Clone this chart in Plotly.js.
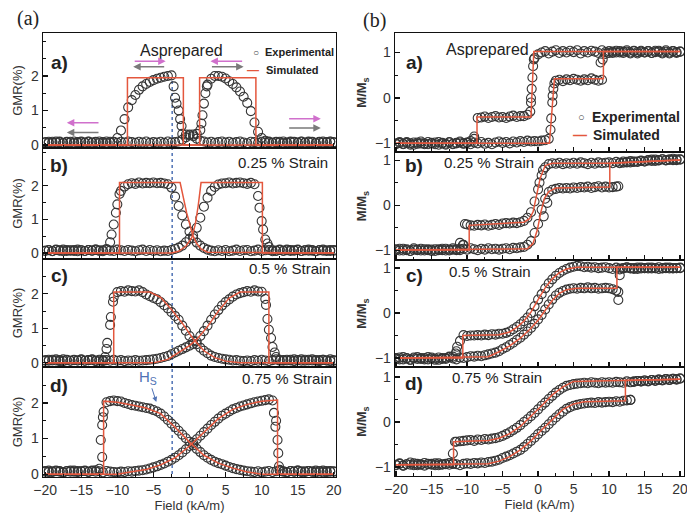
<!DOCTYPE html>
<html><head><meta charset="utf-8">
<script src="https://cdn.plot.ly/plotly-3.0.1.min.js"></script>
<style>html,body{margin:0;padding:0;background:#fff}#chart{width:687px;height:513px}</style>
</head><body><div id="chart"></div>
<script>
// ---------- DATA ----------
const fieldGrid = [-20,-19.5,-19,-18.5,-18,-17.5,-17,-16.5,-16,-15.5,
 -15,-14.5,-14,-13.5,-13,-12.5,-12,-11.5,-11,-10.5,
 -10,-9.5,-9,-8.5,-8,-7.5,-7,-6.5,-6,-5.5,
 -5,-4.5,-4,-3.5,-3,-2.5,-2,-1.5,-1,-0.5,
 0,0.5,1,1.5,2,2.5,3,3.5,4,4.5,
 5,5.5,6,6.5,7,7.5,8,8.5,9,9.5,
 10,10.5,11,11.5,12,12.5,13,13.5,14,14.5,
 15,15.5,16,16.5,17,17.5,18,18.5,19,19.5,20];

// GMR (%) — left column
const gmrA_down = [0.07,0.09,0.06,0.10,0.08,0.05,0.09,0.07,0.10,0.06,
 0.08,0.06,0.10,0.07,0.09,0.05,0.08,0.10,0.07,0.09,
 0.20,0.42,0.75,1.09,1.30,1.45,1.60,1.70,1.77,1.83,
 1.88,1.92,1.95,1.98,2.00,2.02,1.37,1.00,0.32,0.30,
 0.30,0.25,0.18,0.12,0.10,0.07,0.09,0.06,0.08,0.10,
 0.07,0.09,0.06,0.08,0.10,0.07,0.05,0.09,0.08,0.06,
 0.09,0.07,0.10,0.06,0.08,0.09,0.05,0.07,0.10,0.08,
 0.06,0.09,0.07,0.10,0.08,0.06,0.09,0.07,0.08,0.10,0.07];
const gmrA_up = [0.08,0.06,0.09,0.07,0.10,0.06,0.08,0.09,0.05,0.08,
 0.10,0.07,0.09,0.06,0.08,0.10,0.07,0.05,0.09,0.08,
 0.06,0.09,0.07,0.10,0.08,0.06,0.09,0.07,0.10,0.06,
 0.08,0.07,0.09,0.06,0.10,0.07,0.08,0.10,0.15,0.22,
 0.28,0.30,0.32,0.43,1.20,1.75,1.92,2.00,2.00,1.98,
 1.93,1.85,1.77,1.67,1.55,1.40,1.22,0.98,0.65,0.38,
 0.20,0.12,0.08,0.06,0.09,0.07,0.10,0.06,0.08,0.09,
 0.07,0.10,0.06,0.08,0.09,0.05,0.08,0.10,0.07,0.09,0.08];
const gmrA_edgeX = [-2.2,-1.8,-1.3,-1.1,1.65,1.8,2.2,2.4];
const gmrA_edgeY = [1.70,1.20,0.75,0.55,0.62,0.86,1.50,1.70];
const gmrA_simX = [20,-0.85,-0.85,-8.6,-8.6,-20,null,-20,1.4,1.4,9.2,9.2,20];
const gmrA_simY = [0,0,1.95,1.95,0,0,null,0,0,1.95,1.95,0,0];

const gmrB_down = [0.06,0.08,0.05,0.09,0.07,0.10,0.06,0.08,0.09,0.05,
 0.08,0.06,0.09,0.07,0.10,0.06,0.08,0.12,0.32,0.85,
 1.45,1.85,1.98,2.05,2.08,2.06,2.10,2.07,2.09,2.08,
 2.10,2.08,2.09,2.07,2.05,1.95,1.68,1.40,1.12,0.85,
 0.64,0.44,0.31,0.22,0.15,0.10,0.07,0.05,0.08,0.06,
 0.09,0.05,0.07,0.10,0.06,0.08,0.09,0.05,0.07,0.10,
 0.06,0.08,0.09,0.05,0.07,0.10,0.06,0.08,0.09,0.07,
 0.10,0.06,0.08,0.07,0.09,0.05,0.08,0.10,0.06,0.09,0.07];
const gmrB_up = [0.07,0.09,0.06,0.10,0.08,0.05,0.09,0.07,0.06,0.10,
 0.08,0.06,0.09,0.07,0.10,0.08,0.05,0.09,0.07,0.06,
 0.10,0.08,0.06,0.09,0.07,0.05,0.08,0.10,0.06,0.09,
 0.06,0.08,0.05,0.07,0.06,0.09,0.12,0.16,0.22,0.32,
 0.42,0.52,0.75,1.05,1.38,1.65,1.85,1.97,2.04,2.07,
 2.08,2.10,2.07,2.09,2.10,2.08,2.06,2.09,2.05,1.70,
 0.95,0.40,0.18,0.08,0.06,0.09,0.07,0.10,0.06,0.08,
 0.09,0.06,0.08,0.10,0.07,0.05,0.09,0.07,0.08,0.06,0.09];
const gmrB_edgeX = [-10.8,-10.2,-9.7,9.7,10.2,10.8];
const gmrB_edgeY = [0.55,1.20,1.76,1.35,0.70,0.28];
const gmrB_simX = [20,3.5,2.5,1.6,1,0.5,0,-0.4,-0.9,-1.3,-9.7,-9.7,-20,null,
 -20,-2.5,-1.5,-0.5,0.3,0.8,1.2,1.6,10.1,10.1,20];
const gmrB_simY = [0,0,0.02,0.12,0.28,0.5,0.85,1.2,1.7,2.1,2.1,0,0,null,
 0,0,0.05,0.2,0.45,0.85,1.4,2.1,2.1,0,0];

const gmrC_down = [0.08,0.06,0.09,0.07,0.05,0.10,0.08,0.06,0.09,0.07,
 0.10,0.06,0.08,0.09,0.05,0.07,0.08,0.40,1.10,1.90,
 2.05,2.08,2.06,2.10,2.08,2.07,2.10,2.05,1.98,1.93,
 1.88,1.84,1.76,1.67,1.58,1.47,1.36,1.25,1.08,0.93,
 0.78,0.64,0.54,0.44,0.35,0.28,0.21,0.17,0.14,0.12,
 0.10,0.09,0.07,0.08,0.06,0.05,0.07,0.05,0.08,0.06,
 0.09,0.07,0.05,0.08,0.10,0.06,0.08,0.07,0.09,0.05,
 0.08,0.10,0.06,0.09,0.07,0.08,0.05,0.09,0.07,0.10,0.06];
const gmrC_up = [0.06,0.09,0.07,0.10,0.08,0.05,0.09,0.06,0.08,0.07,
 0.09,0.06,0.08,0.10,0.07,0.09,0.05,0.08,0.06,0.09,
 0.06,0.08,0.05,0.07,0.06,0.08,0.06,0.07,0.08,0.09,
 0.10,0.12,0.14,0.17,0.20,0.25,0.30,0.35,0.40,0.45,
 0.50,0.55,0.62,0.78,0.92,1.08,1.25,1.40,1.53,1.66,
 1.76,1.84,1.92,1.98,2.02,2.05,2.08,2.06,2.10,2.07,
 2.06,1.85,0.96,0.46,0.17,0.08,0.06,0.09,0.07,0.10,
 0.08,0.06,0.09,0.07,0.10,0.06,0.08,0.09,0.07,0.05,0.08];
const gmrC_edgeX = [-11.7,-11.4,-10.9,-10.6,10.6,10.8,11.3,11.8];
const gmrC_edgeY = [0.17,0.58,1.33,1.77,1.68,1.27,0.72,0.30];
const gmrC_simX = [20,7,5,3.5,2,0.5,-1,-2.5,-4,-5.5,-10.5,-10.5,-20,null,
 -20,-5,-3,-1.5,0,1,2.5,4,5.5,7,11,11,20];
const gmrC_simY = [0,0,0.05,0.15,0.35,0.7,1.15,1.55,1.9,2.05,2.05,0,0,null,
 0,0,0.1,0.3,0.5,0.68,1.05,1.5,1.88,2.05,2.05,0,0];

const gmrD_down = [0.07,0.10,0.06,0.08,0.09,0.05,0.08,0.10,0.07,0.09,
 0.08,0.10,0.07,0.09,0.11,0.15,1.60,2.02,2.05,2.07,
 2.05,2.04,2.00,1.97,1.94,1.92,1.90,1.88,1.86,1.84,
 1.80,1.76,1.70,1.62,1.52,1.42,1.32,1.22,1.11,1.01,
 0.91,0.81,0.71,0.62,0.53,0.46,0.40,0.35,0.31,0.28,
 0.24,0.20,0.17,0.14,0.12,0.10,0.08,0.07,0.06,0.08,
 0.05,0.07,0.09,0.06,0.08,0.10,0.07,0.05,0.09,0.07,
 0.10,0.06,0.08,0.09,0.07,0.05,0.08,0.10,0.06,0.09,0.07];
const gmrD_up = [0.09,0.06,0.08,0.10,0.07,0.05,0.09,0.07,0.10,0.06,
 0.08,0.09,0.06,0.10,0.07,0.08,0.05,0.09,0.07,0.06,
 0.05,0.07,0.06,0.08,0.07,0.09,0.10,0.11,0.13,0.16,
 0.19,0.22,0.26,0.30,0.35,0.40,0.46,0.53,0.61,0.70,
 0.79,0.88,0.98,1.08,1.18,1.28,1.38,1.47,1.56,1.64,
 1.70,1.76,1.82,1.86,1.90,1.93,1.96,1.99,2.02,2.04,
 2.06,2.08,2.10,2.07,1.50,0.12,0.08,0.06,0.09,0.07,
 0.10,0.08,0.06,0.09,0.07,0.10,0.08,0.05,0.09,0.07,0.08];
const gmrD_edgeX = [-12.1,-12.3,-12.1,-11.9,11.7,11.9,12.2,12.3,12.4];
const gmrD_edgeY = [0.48,0.96,1.38,1.75,1.72,1.33,0.96,0.59,0.22];
const gmrD_simX = [20,10,8,6,4,2,0,-2,-4,-6,-8,-10,-11.9,-11.9,-20,null,
 -20,-10,-8,-6,-4,-2,0,2,4,6,8,10,12.2,12.2,20];
const gmrD_simY = [0,0,0.06,0.17,0.31,0.53,0.9,1.32,1.7,1.86,1.94,2.02,2.05,0,0,null,
 0,0,0.07,0.13,0.26,0.46,0.79,1.18,1.56,1.82,1.96,2.05,2.08,0,0];

// M/Ms — right column
const magA_down = [-1.00,-0.97,-1.02,-0.99,-1.03,-0.98,-1.01,-0.96,-1.00,-1.02,
 -0.99,-1.02,-0.97,-1.00,-1.03,-0.98,-1.01,-0.99,-0.96,-1.00,
 -0.98,-0.95,-0.90,-0.44,-0.43,-0.41,-0.44,-0.42,-0.40,-0.43,
 -0.42,-0.44,-0.41,-0.39,-0.42,-0.40,-0.40,-0.37,0.00,0.88,
 0.96,1.00,1.03,0.98,1.02,1.05,0.99,1.03,1.00,1.04,
 1.01,1.05,0.98,1.03,1.00,1.04,1.02,0.99,1.05,1.01,
 1.03,0.99,1.04,1.00,1.02,1.05,0.98,1.03,1.01,1.04,
 1.00,1.03,0.99,1.04,1.02,1.00,1.05,0.98,1.03,1.01,1.02];
const magA_up = [-1.02,-0.99,-1.01,-0.97,-1.00,-1.03,-0.98,-1.00,-1.02,-0.97,
 -1.00,-0.98,-1.03,-0.99,-1.01,-0.97,-1.02,-1.00,-0.98,-1.01,
 -0.99,-1.02,-0.98,-1.00,-0.97,-1.01,-0.99,-1.02,-0.98,-0.96,
 -0.99,-0.97,-1.00,-0.96,-0.98,-0.95,-0.97,-0.94,-0.96,-0.95,
 -0.96,-0.94,-0.93,-0.90,-0.10,0.38,0.40,0.37,0.41,0.39,
 0.42,0.40,0.38,0.41,0.39,0.43,0.40,0.38,0.40,0.97,
 0.99,1.02,1.00,1.03,0.99,1.02,1.00,1.04,0.98,1.02,
 1.00,1.03,0.99,1.01,1.04,0.98,1.02,1.00,1.03,0.99,1.02];
const magA_edgeX = [-1.1,-1.0,-0.9,-0.8,-0.7,-0.6,-9.0,1.75,1.85,2.05,2.15,2.3,8.8,9.1];
const magA_edgeY = [-0.30,-0.10,0.20,0.45,0.70,0.85,-0.85,-0.70,-0.45,0.05,0.20,0.32,0.78,0.85];
const magA_simX = [20,-0.6,-1.0,-8.6,-8.6,-20,null,-20,1.6,2.3,9.2,9.2,20];
const magA_simY = [1.02,1.02,-0.42,-0.42,-1.0,-1.0,null,-1.0,-1.0,0.42,0.42,1.02,1.02];

const magB_down = [-0.98,-1.01,-0.97,-1.00,-1.02,-0.96,-0.99,-1.01,-0.98,-1.00,
 -1.02,-0.98,-1.00,-0.97,-1.01,-0.99,-0.96,-1.00,-0.97,-0.88,
 -0.43,-0.45,-0.46,-0.44,-0.45,-0.43,-0.46,-0.44,-0.42,-0.44,
 -0.41,-0.40,-0.41,-0.39,-0.40,-0.38,-0.35,-0.28,-0.16,0.08,
 0.35,0.66,0.84,0.91,0.93,0.92,0.94,0.91,0.93,0.92,
 0.94,0.92,0.95,0.93,0.91,0.94,0.92,0.95,0.93,0.94,
 0.95,0.93,0.96,0.94,0.97,0.95,0.98,0.96,0.97,0.99,
 0.97,1.00,0.98,1.01,0.99,1.02,1.00,1.01,1.03,1.00,1.02];
const magB_up = [-1.00,-0.97,-1.01,-0.98,-1.02,-0.99,-1.00,-0.97,-1.01,-0.98,
 -0.99,-1.02,-0.98,-1.00,-0.97,-1.01,-0.99,-0.98,-1.00,-0.97,
 -0.99,-0.96,-0.98,-1.00,-0.97,-0.99,-0.96,-0.98,-0.97,-0.99,
 -0.97,-0.96,-0.98,-0.95,-0.96,-0.94,-0.93,-0.88,-0.80,-0.62,
 -0.42,-0.10,0.14,0.29,0.34,0.36,0.38,0.37,0.38,0.37,
 0.39,0.38,0.40,0.39,0.41,0.38,0.40,0.42,0.39,0.41,
 0.39,0.40,0.41,0.93,0.94,0.96,0.95,0.97,0.96,0.98,
 0.97,0.99,1.01,0.98,1.00,1.02,0.99,1.01,1.00,1.02,1.01];
const magB_edgeX = [-10.3,-10.6,-11.0,0.2,0.7,0.8,1.3,11.3];
const magB_edgeY = [-0.42,-0.89,-0.84,0.50,0.78,-0.25,0.05,0.42];
const magB_simX = [20,10,2,1,0.3,-0.2,-0.7,-1.2,-2,-9.7,-9.7,-20,null,
 -20,-1.5,-0.7,-0.1,0.4,0.9,1.5,2.5,10.1,10.1,20];
const magB_simY = [1.0,0.93,0.93,0.88,0.6,0.2,-0.15,-0.3,-0.38,-0.45,-1.0,-1.0,null,
 -1.0,-0.97,-0.85,-0.55,-0.15,0.15,0.3,0.38,0.4,0.93,1.0];

const magC_down = [-1.00,-1.03,-0.98,-1.01,-1.04,-0.99,-1.02,-1.00,-1.03,-0.98,
 -1.01,-1.04,-0.99,-1.02,-1.00,-0.97,-0.97,-0.85,-0.62,-0.49,
 -0.51,-0.50,-0.50,-0.49,-0.50,-0.48,-0.49,-0.47,-0.48,-0.46,
 -0.46,-0.44,-0.41,-0.36,-0.31,-0.25,-0.18,-0.10,0.00,0.15,
 0.30,0.42,0.55,0.66,0.75,0.83,0.89,0.94,0.98,1.01,
 1.03,1.05,1.04,1.02,1.03,1.01,1.02,1.00,1.01,1.02,
 1.00,0.98,1.01,0.99,1.00,1.02,0.99,1.00,0.98,1.01,
 1.00,0.99,1.01,1.00,0.98,1.00,1.01,0.99,1.00,1.00,1.00];
const magC_up = [-1.02,-0.99,-1.03,-1.00,-1.04,-1.01,-0.98,-1.02,-1.00,-1.03,
 -0.99,-1.01,-1.04,-1.00,-1.02,-0.98,-1.01,-1.03,-0.99,-1.00,
 -0.98,-0.96,-0.97,-0.95,-0.96,-0.94,-0.92,-0.90,-0.88,-0.85,
 -0.80,-0.76,-0.71,-0.66,-0.60,-0.55,-0.48,-0.41,-0.33,-0.24,
 -0.14,-0.04,0.08,0.19,0.30,0.39,0.45,0.49,0.52,0.54,
 0.55,0.54,0.56,0.55,0.57,0.55,0.56,0.54,0.55,0.56,
 0.55,0.53,0.50,0.97,0.99,1.01,1.00,0.98,1.01,0.99,
 1.00,1.01,0.99,1.00,1.02,0.99,1.00,1.01,0.99,1.00,1.01];
const magC_edgeX = [-11.4,-11.6,11.3,11.3,11.5];
const magC_edgeY = [-0.75,-0.90,0.47,0.29,0.84];
const magC_simX = [20,5.5,4,3,2,1,0,-1,-2,-3,-4,-5.5,-10.6,-10.6,-20,null,
 -20,-7,-5.5,-4,-2.5,-1,0,1,2,3,4,5.5,11.1,11.1,20];
const magC_simY = [1.02,1.02,0.98,0.9,0.76,0.56,0.3,0.02,-0.18,-0.32,-0.42,-0.48,-0.5,-1.0,-1.0,null,
 -1.0,-0.97,-0.86,-0.73,-0.56,-0.34,-0.16,0.06,0.28,0.44,0.52,0.55,0.55,1.02,1.02];

const magD_down = [-0.95,-0.92,-0.97,-0.94,-0.90,-0.96,-0.93,-0.95,-0.91,-0.94,
 -0.93,-0.96,-0.92,-0.95,-0.94,-0.91,-0.93,-0.44,-0.43,-0.42,
 -0.41,-0.40,-0.42,-0.39,-0.40,-0.38,-0.39,-0.37,-0.36,-0.34,
 -0.31,-0.27,-0.23,-0.18,-0.13,-0.07,0.00,0.06,0.13,0.20,
 0.28,0.36,0.43,0.51,0.58,0.65,0.71,0.76,0.80,0.82,
 0.84,0.85,0.86,0.87,0.86,0.88,0.87,0.86,0.88,0.87,
 0.88,0.87,0.89,0.88,0.87,0.90,0.88,0.89,0.91,0.90,
 0.92,0.90,0.93,0.91,0.94,0.92,0.95,0.93,0.96,0.94,0.96];
const magD_up = [-0.96,-0.93,-0.97,-0.94,-0.95,-0.92,-0.96,-0.94,-0.97,-0.93,
 -0.95,-0.92,-0.96,-0.94,-0.93,-0.95,-0.92,-0.94,-0.96,-0.93,
 -0.92,-0.93,-0.91,-0.92,-0.90,-0.91,-0.89,-0.88,-0.86,-0.84,
 -0.80,-0.77,-0.74,-0.70,-0.66,-0.62,-0.56,-0.49,-0.42,-0.35,
 -0.27,-0.20,-0.13,-0.05,0.03,0.10,0.17,0.23,0.29,0.33,
 0.36,0.38,0.40,0.41,0.42,0.43,0.42,0.44,0.43,0.44,
 0.45,0.44,0.46,0.45,0.47,0.48,0.49,0.90,0.91,0.90,
 0.92,0.91,0.93,0.92,0.94,0.93,0.95,0.94,0.96,0.95,0.97];
const magD_edgeX = [-11.7,-12.0,13.0];
const magD_edgeY = [-0.44,-0.70,0.49];
const magD_simX = [20,5,3.5,2,0.5,-1,-2.5,-4,-5.5,-7,-11.9,-11.9,-20,null,
 -20,-7,-5.5,-4,-2.5,-1,0.5,2,3.5,5,6.5,12.3,12.3,20];
const magD_simY = [0.95,0.9,0.78,0.6,0.36,0.12,-0.1,-0.26,-0.36,-0.41,-0.44,-0.95,-0.95,null,
 -0.95,-0.93,-0.87,-0.77,-0.62,-0.42,-0.18,0.06,0.28,0.4,0.45,0.47,0.92,0.95];

const panelLabels = ['a)','b)','c)','d)'];
const leftNotes = ['Asprepared','0.25 % Strain','0.5 % Strain','0.75 % Strain'];
const rightNotes = ['Asprepared','0.25 % Strain','0.5 % Strain','0.75 % Strain'];
const gmrTicks = [0, 1, 2];
const magTicks = [-1, 0, 1];
const fieldTicks = [-20, -15, -10, -5, 0, 5, 10, 15, 20];
const xTitle = 'Field (kA/m)';
const leftYTitle = 'GMR(%)';
const rightYTitle = '<b>M/M<sub>s</sub></b>';

// ---------- LAYOUT HELPERS ----------
const W = 687, H = 513;
const dom = (t, b) => [1 - b / H, 1 - t / H];
const FONT = 'Liberation Sans, Arial, Helvetica, sans-serif';
const leftXDom = [43 / W, 336 / W], rightXDom = [395 / W, 684 / W];

const panels = [
  {xd: leftXDom, yd: dom(33,148), xr: [-20.3,20.3], yr: [-0.09,3.25], d: gmrA_down, u: gmrA_up, ex: gmrA_edgeX, ey: gmrA_edgeY, sx: gmrA_simX, sy: gmrA_simY, title: leftYTitle, tv: gmrTicks},
  {xd: leftXDom, yd: dom(148,259), xr: [-20.3,20.3], yr: [-0.18,3.13], d: gmrB_down, u: gmrB_up, ex: gmrB_edgeX, ey: gmrB_edgeY, sx: gmrB_simX, sy: gmrB_simY, title: leftYTitle, tv: gmrTicks},
  {xd: leftXDom, yd: dom(259,367), xr: [-20.3,20.3], yr: [-0.12,3.01], d: gmrC_down, u: gmrC_up, ex: gmrC_edgeX, ey: gmrC_edgeY, sx: gmrC_simX, sy: gmrC_simY, title: leftYTitle, tv: gmrTicks},
  {xd: leftXDom, yd: dom(367,477), xr: [-20.3,20.3], yr: [-0.08,3.01], d: gmrD_down, u: gmrD_up, ex: gmrD_edgeX, ey: gmrD_edgeY, sx: gmrD_simX, sy: gmrD_simY, title: leftYTitle, tv: gmrTicks, bottom: true},
  {xd: rightXDom, yd: dom(33,152), xr: [-20.15,20.55], yr: [-1.19,1.43], d: magA_down, u: magA_up, ex: magA_edgeX, ey: magA_edgeY, sx: magA_simX, sy: magA_simY, title: rightYTitle, tv: magTicks},
  {xd: rightXDom, yd: dom(152,260), xr: [-20.15,20.55], yr: [-1.22,1.18], d: magB_down, u: magB_up, ex: magB_edgeX, ey: magB_edgeY, sx: magB_simX, sy: magB_simY, title: rightYTitle, tv: magTicks},
  {xd: rightXDom, yd: dom(260,367), xr: [-20.15,20.55], yr: [-1.2,1.18], d: magC_down, u: magC_up, ex: magC_edgeX, ey: magC_edgeY, sx: magC_simX, sy: magC_simY, title: rightYTitle, tv: magTicks},
  {xd: rightXDom, yd: dom(367,476), xr: [-20.15,20.55], yr: [-1.2,1.22], d: magD_down, u: magD_up, ex: magD_edgeX, ey: magD_edgeY, sx: magD_simX, sy: magD_simY, title: rightYTitle, tv: magTicks, bottom: true}
];

const expMarker = {symbol: 'circle-open', size: 9, color: '#353535', line: {width: 1.1}};
const simLine = {color: '#e4573d', width: 1.5};

const traces = [];
const layout = {
  width: W, height: H, margin: {l: 0, r: 0, t: 0, b: 0},
  paper_bgcolor: '#fff', plot_bgcolor: '#fff', showlegend: false,
  annotations: [], shapes: []
};

panels.forEach((p, i) => {
  const k = i + 1;
  const xa = 'x' + k, ya = 'y' + k;
  traces.push({x: fieldGrid, y: p.d, xaxis: xa, yaxis: ya, mode: 'markers', type: 'scatter', marker: expMarker, hoverinfo: 'skip'});
  traces.push({x: fieldGrid, y: p.u, xaxis: xa, yaxis: ya, mode: 'markers', type: 'scatter', marker: expMarker, hoverinfo: 'skip'});
  traces.push({x: p.ex, y: p.ey, xaxis: xa, yaxis: ya, mode: 'markers', type: 'scatter', marker: expMarker, hoverinfo: 'skip'});
  traces.push({x: p.sx, y: p.sy, xaxis: xa, yaxis: ya, mode: 'lines', type: 'scatter', line: simLine, connectgaps: false, hoverinfo: 'skip'});
  const common = {
    showline: true, mirror: true, linecolor: '#111', linewidth: 1.3,
    ticks: 'inside', ticklen: 5, tickwidth: 1.2, tickcolor: '#111',
    showgrid: false, zeroline: false, ticklabeloverflow: 'allow',
    tickfont: {family: FONT, size: 14, color: '#333'}
  };
  layout['xaxis' + k] = Object.assign({}, common, {
    domain: p.xd, range: p.xr, anchor: ya, tickmode: 'array', tickvals: fieldTicks,
    minor: {dtick: 2.5, tick0: 0, ticks: 'inside', ticklen: 3, tickcolor: '#111', tickwidth: 1},
    showticklabels: !!p.bottom,
    title: p.bottom ? {text: xTitle, font: {family: FONT, size: 13, color: '#333'}, standoff: 3} : {text: ''}
  });
  layout['yaxis' + k] = Object.assign({}, common, {
    domain: p.yd, range: p.yr, anchor: xa, tickmode: 'array', tickvals: p.tv,
    minor: {dtick: 0.5, tick0: 0, ticks: 'inside', ticklen: 3, tickcolor: '#111', tickwidth: 1},
    title: {text: p.title, font: {family: FONT, size: 13, color: '#333'}, standoff: 5}
  });
});

// ---------- ANNOTATIONS ----------
const A = layout.annotations;
function txt(px, py, text, size, extra) {
  A.push(Object.assign({xref: 'paper', yref: 'paper', x: px / W, y: 1 - py / H, text: text, showarrow: false,
    font: {family: FONT, size: size, color: '#222'}, xanchor: 'center', yanchor: 'middle'}, extra || {}));
}
// column headers
txt(28, 19, '(a)', 20, {font: {family: 'Liberation Serif, Times New Roman, serif', size: 20, color: '#222'}});
txt(374, 20, '(b)', 20, {font: {family: 'Liberation Serif, Times New Roman, serif', size: 20, color: '#222'}});
// panel labels
const lblLeftY = [62, 165, 275, 385], lblRightY = [63, 165, 275, 383];
panelLabels.forEach((t, i) => {
  txt(59, lblLeftY[i], '<b>' + t + '</b>', 19);
  txt(414, lblRightY[i], '<b>' + t + '</b>', 19);
});
// condition notes
txt(181, 50, leftNotes[0], 16);
txt(283, 163, leftNotes[1], 15);
txt(290, 268, leftNotes[2], 15);
txt(287, 378, leftNotes[3], 15);
txt(487, 49, rightNotes[0], 16);
txt(489, 163, rightNotes[1], 15);
txt(490, 271, rightNotes[2], 15);
txt(497, 377, rightNotes[3], 15);
// legends
txt(256, 52, '○', 10, {font: {family: FONT, size: 10, color: '#444'}});
txt(263, 52, '<b>Experimental</b>', 11, {xanchor: 'left'});
txt(253, 70, '<b>—</b>', 12, {font: {family: FONT, size: 12, color: '#e4573d'}});
txt(264, 70, '<b>Simulated</b>', 11, {xanchor: 'left'});
txt(581, 117, '○', 11, {font: {family: FONT, size: 11, color: '#444'}});
txt(590, 117, '<b>Experimental</b>', 14, {xanchor: 'left'});
txt(580, 135, '<b>—</b>', 14, {font: {family: FONT, size: 14, color: '#e4573d'}});
txt(591, 135, '<b>Simulated</b>', 14, {xanchor: 'left'});

// field-direction arrows in panel (a) left
function arrow(x0, y0, x1, y1, color) {
  A.push({xref: 'x', yref: 'y', axref: 'x', ayref: 'y', x: x1, y: y1, ax: x0, ay: y0, text: '',
    showarrow: true, arrowhead: 2, arrowsize: 1, arrowwidth: 1.5, arrowcolor: color});
}
const PINK = '#d070cc', GREY = '#7a7a7a';
arrow(-7.8, 2.43, -3.3, 2.43, PINK);
arrow(-3.3, 2.27, -7.8, 2.27, GREY);
arrow(7.5, 2.43, 2.9, 2.43, PINK);
arrow(2.9, 2.27, 7.5, 2.27, GREY);
arrow(-12.4, 0.64, -17, 0.64, PINK);
arrow(-12.4, 0.36, -17, 0.36, GREY);
arrow(13.6, 0.76, 18.2, 0.76, PINK);
arrow(13.6, 0.49, 18.2, 0.49, GREY);

// Hs marker in panel (d) left
A.push({xref: 'x4', yref: 'y4', axref: 'x4', ayref: 'y4', x: -4.6, y: 2.03, ax: -5.7, ay: 2.72,
  text: 'H<sub>S</sub>', showarrow: true, arrowhead: 2, arrowsize: 1, arrowwidth: 1, arrowcolor: '#4f72b5',
  font: {family: FONT, size: 15, color: '#4f72b5'}});

// dotted vertical guide through left column
layout.shapes.push({type: 'line', xref: 'x', yref: 'paper', x0: -2.4, x1: -2.4, y0: 1 - 474 / H, y1: 1 - 80 / H,
  line: {color: '#4f72b5', width: 1.5, dash: 'dot'}, layer: 'below'});

Plotly.newPlot('chart', traces, layout, {displayModeBar: false, staticPlot: true});
</script>
</body></html>
